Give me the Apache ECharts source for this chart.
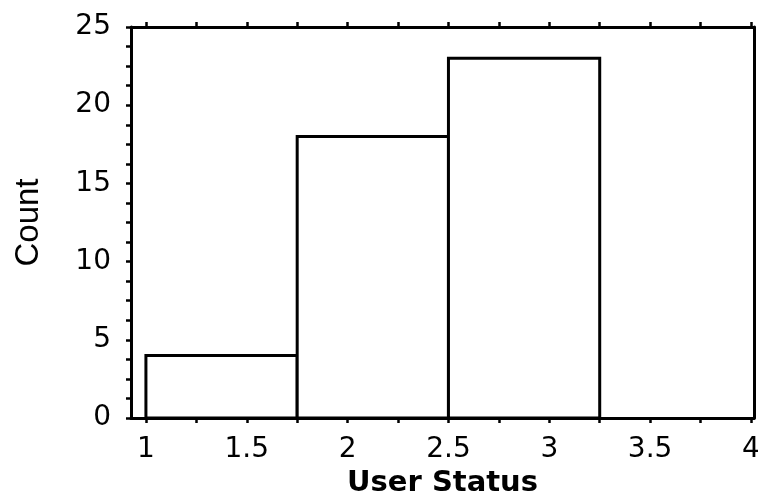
<!DOCTYPE html>
<html>
<head>
<meta charset="utf-8">
<script src="https://cdn.jsdelivr.net/npm/echarts@6/dist/echarts.min.js"></script>
<style>html,body{margin:0;padding:0;background:#fff}#c{width:758px;height:494px}</style>
</head>
<body>
<div id="c"></div>
<script>
var binStarts = [1, 1.75, 2.5];
var binEnds = [1.75, 2.5, 3.25];
var counts = [4, 18, 23];
var xLabelValues = [1, 1.5, 2, 2.5, 3, 3.5, 4];
var xTickValues = [1, 1.25, 1.5, 1.75, 2, 2.25, 2.5, 2.75, 3, 3.25, 3.5, 3.75, 4];
var xTitle = 'User Status';
var yTitle = 'Count';

var FONT = '"DejaVu Sans", "Liberation Sans", sans-serif';
var chart = echarts.init(document.getElementById('c'), null, {renderer: 'canvas'});

var data = binStarts.map(function (s, i) { return [s, binEnds[i], counts[i]]; });

var lineStyle = {color: '#000', width: 3};
var tickStyle = {color: '#000', width: 2.5};

chart.setOption({
  animation: false,
  backgroundColor: '#fff',
  grid: {left: 131, right: 4, top: 27, bottom: 76, containLabel: false, outerBoundsMode: 'none'},
  xAxis: [{
    type: 'value', position: 'bottom', min: 0.926, max: 4.015,
    axisLine: {show: true, onZero: false, lineStyle: lineStyle},
    axisTick: {show: true, customValues: xTickValues, length: 5, inside: false, lineStyle: tickStyle},
    axisLabel: {customValues: xLabelValues, margin: 18, color: '#000', fontSize: 28, fontFamily: FONT},
    splitLine: {show: false},
    name: xTitle, nameLocation: 'middle', nameGap: 47,
    nameTextStyle: {color: '#000', fontSize: 29, fontWeight: 'bold', fontFamily: FONT}
  }, {
    type: 'value', position: 'top', min: 0.926, max: 4.015,
    axisLine: {show: true, onZero: false, lineStyle: lineStyle},
    axisTick: {show: true, customValues: xTickValues, length: 5, lineStyle: tickStyle},
    axisLabel: {show: false},
    splitLine: {show: false}
  }],
  yAxis: [{
    type: 'value', position: 'left', min: 0, max: 25, interval: 5,
    axisLine: {show: true, onZero: false, lineStyle: lineStyle},
    axisTick: {show: true, length: 5, lineStyle: tickStyle},
    minorTick: {show: true, splitNumber: 4, length: 5, lineStyle: tickStyle},
    minorSplitLine: {show: false},
    axisLabel: {margin: 20, color: '#000', fontSize: 28, fontFamily: FONT},
    splitLine: {show: false},
    name: yTitle, nameLocation: 'middle', nameGap: 86, nameRotate: 90,
    nameTextStyle: {color: '#000', fontSize: 33, fontFamily: '"Liberation Sans Narrow", "Liberation Sans", sans-serif'}
  }, {
    type: 'value', position: 'right', min: 0, max: 25,
    axisLine: {show: true, onZero: false, lineStyle: lineStyle},
    axisTick: {show: false}, axisLabel: {show: false}, splitLine: {show: false}
  }],
  series: [{
    type: 'custom',
    xAxisIndex: 0, yAxisIndex: 0,
    data: data,
    encode: {x: [0, 1], y: 2},
    renderItem: function (params, api) {
      var p0 = api.coord([api.value(0), api.value(2)]);
      var p1 = api.coord([api.value(1), 0]);
      return {
        type: 'rect',
        shape: {x: p0[0], y: p0[1], width: p1[0] - p0[0], height: p1[1] - p0[1]},
        style: {fill: '#fff', stroke: '#000', lineWidth: 3}
      };
    }
  }]
});
</script>
</body>
</html>
